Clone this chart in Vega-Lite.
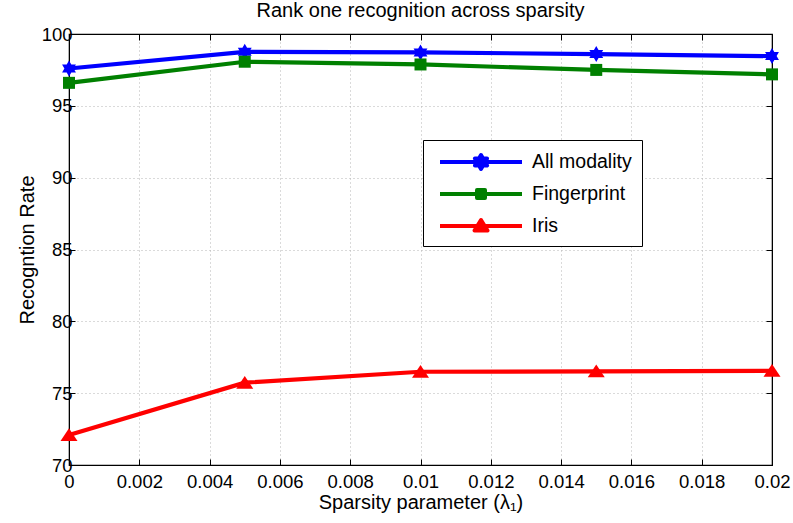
{
  "$schema": "https://vega.github.io/schema/vega-lite/v6.json",
  "width": 703,
  "height": 431,
  "autosize": "none",
  "padding": {"left": 69, "top": 34, "right": 21, "bottom": 58},
  "background": "white",
  "title": {
    "text": "Rank one recognition across sparsity",
    "font": "Liberation Sans",
    "fontSize": 20,
    "fontWeight": "normal",
    "color": "black",
    "offset": 4
  },
  "config": {
    "font": "Liberation Sans",
    "view": {"stroke": "black", "strokeWidth": 1.2},
    "axis": {
      "labelFont": "Liberation Sans",
      "labelFontSize": 18.5,
      "labelColor": "black",
      "titleFont": "Liberation Sans",
      "titleFontSize": 20,
      "titleFontWeight": "normal",
      "titleColor": "black",
      "domainColor": "black",
      "tickColor": "black",
      "gridColor": "#b5b5b5",
      "gridDash": [1, 3],
      "gridWidth": 1,
      "tickSize": -6,
      "tickWidth": 1
    }
  },
  "data": {
    "values": [
      {"lambda": 0, "rate": 97.6, "series": "All modality"},
      {"lambda": 0.005, "rate": 98.76, "series": "All modality"},
      {"lambda": 0.01, "rate": 98.72, "series": "All modality"},
      {"lambda": 0.015, "rate": 98.6, "series": "All modality"},
      {"lambda": 0.02, "rate": 98.46, "series": "All modality"},
      {"lambda": 0, "rate": 96.6, "series": "Fingerprint"},
      {"lambda": 0.005, "rate": 98.07, "series": "Fingerprint"},
      {"lambda": 0.01, "rate": 97.88, "series": "Fingerprint"},
      {"lambda": 0.015, "rate": 97.5, "series": "Fingerprint"},
      {"lambda": 0.02, "rate": 97.19, "series": "Fingerprint"},
      {"lambda": 0, "rate": 72.09, "series": "Iris"},
      {"lambda": 0.005, "rate": 75.73, "series": "Iris"},
      {"lambda": 0.01, "rate": 76.49, "series": "Iris"},
      {"lambda": 0.015, "rate": 76.52, "series": "Iris"},
      {"lambda": 0.02, "rate": 76.56, "series": "Iris"}
    ]
  },
  "resolve": {"axis": {"x": "independent", "y": "independent"}},
  "layer": [
    {
      "mark": {"type": "line", "strokeWidth": 4.2, "clip": false},
      "encoding": {
        "x": {
          "field": "lambda",
          "type": "quantitative",
          "scale": {"domain": [0, 0.02], "nice": false, "zero": false},
          "axis": {
            "orient": "bottom",
            "values": [0, 0.002, 0.004, 0.006, 0.008, 0.01, 0.012, 0.014, 0.016, 0.018, 0.02],
            "format": "~g",
            "grid": true,
            "labelPadding": 13,
            "labelFlush": false,
            "title": "Sparsity parameter (λ₁)",
            "titlePadding": 2
          }
        },
        "y": {
          "field": "rate",
          "type": "quantitative",
          "scale": {"domain": [70, 100], "nice": false, "zero": false},
          "axis": {
            "orient": "left",
            "values": [70, 75, 80, 85, 90, 95, 100],
            "grid": true,
            "labelPadding": 3,
            "labelFlush": false,
            "title": "Recogntion Rate",
            "titlePadding": 4
          }
        },
        "color": {
          "field": "series",
          "type": "nominal",
          "scale": {"domain": ["All modality", "Fingerprint", "Iris"], "range": ["#0000ff", "#008000", "#ff0000"]},
          "legend": {
            "orient": "none",
            "legendX": 354,
            "legendY": 106,
            "title": null,
            "strokeColor": "black",
            "fillColor": "white",
            "padding": 10,
            "labelFont": "Liberation Sans",
            "labelFontSize": 19.5,
            "labelColor": "black",
            "labelOffset": 39,
            "symbolOffset": 36,
            "rowPadding": 10,
            "encode": {
              "symbols": {
                "update": {
                  "shape": {"signal": "datum.value === 'All modality' ? 'M-4.1,0H4.1M0,-0.7L0.202,-0.35L0.606,-0.35L0.404,0L0.606,0.35L0.202,0.35L0,0.7L-0.202,0.35L-0.606,0.35L-0.404,0L-0.606,-0.35L-0.202,-0.35Z' : datum.value === 'Fingerprint' ? 'M-4.1,0H4.1M-0.4,-0.4H0.4V0.4H-0.4Z' : 'M-4.1,0H4.1M0,-0.6L0.65,0.45L-0.65,0.45Z'"},
                  "fill": {"signal": "scale('color', datum.value)"},
                  "stroke": {"signal": "scale('color', datum.value)"},
                  "strokeWidth": {"value": 4},
                  "strokeJoin": {"value": "round"},
                  "opacity": {"value": 1},
                  "size": {"value": 400}
                }
              }
            }
          }
        }
      }
    },
    {
      "transform": [{"filter": "datum.series === 'All modality'"}],
      "mark": {
        "type": "point",
        "filled": true,
        "opacity": 1,
        "clip": false,
        "size": 256,
        "shape": "M0,-1L0.289,-0.5L0.866,-0.5L0.577,0L0.866,0.5L0.289,0.5L0,1L-0.289,0.5L-0.866,0.5L-0.577,0L-0.866,-0.5L-0.289,-0.5Z"
      },
      "encoding": {
        "x": {
          "field": "lambda",
          "type": "quantitative",
          "axis": {
            "orient": "top",
            "values": [0, 0.002, 0.004, 0.006, 0.008, 0.01, 0.012, 0.014, 0.016, 0.018, 0.02],
            "labels": false,
            "grid": false,
            "title": null
          }
        },
        "y": {
          "field": "rate",
          "type": "quantitative",
          "axis": {
            "orient": "right",
            "values": [70, 75, 80, 85, 90, 95, 100],
            "labels": false,
            "grid": false,
            "title": null
          }
        },
        "color": {"field": "series", "type": "nominal"}
      }
    },
    {
      "transform": [{"filter": "datum.series === 'Fingerprint'"}],
      "mark": {"type": "point", "filled": true, "opacity": 1, "clip": false, "size": 144, "shape": "square"},
      "encoding": {
        "x": {"field": "lambda", "type": "quantitative", "axis": null},
        "y": {"field": "rate", "type": "quantitative", "axis": null},
        "color": {"field": "series", "type": "nominal"}
      }
    },
    {
      "transform": [{"filter": "datum.series === 'Iris'"}],
      "mark": {
        "type": "point",
        "filled": true,
        "opacity": 1,
        "clip": false,
        "size": 289,
        "shape": "M0,-0.8L1,0.7L-1,0.7Z"
      },
      "encoding": {
        "x": {"field": "lambda", "type": "quantitative", "axis": null},
        "y": {"field": "rate", "type": "quantitative", "axis": null},
        "color": {"field": "series", "type": "nominal"}
      }
    }
  ]
}
